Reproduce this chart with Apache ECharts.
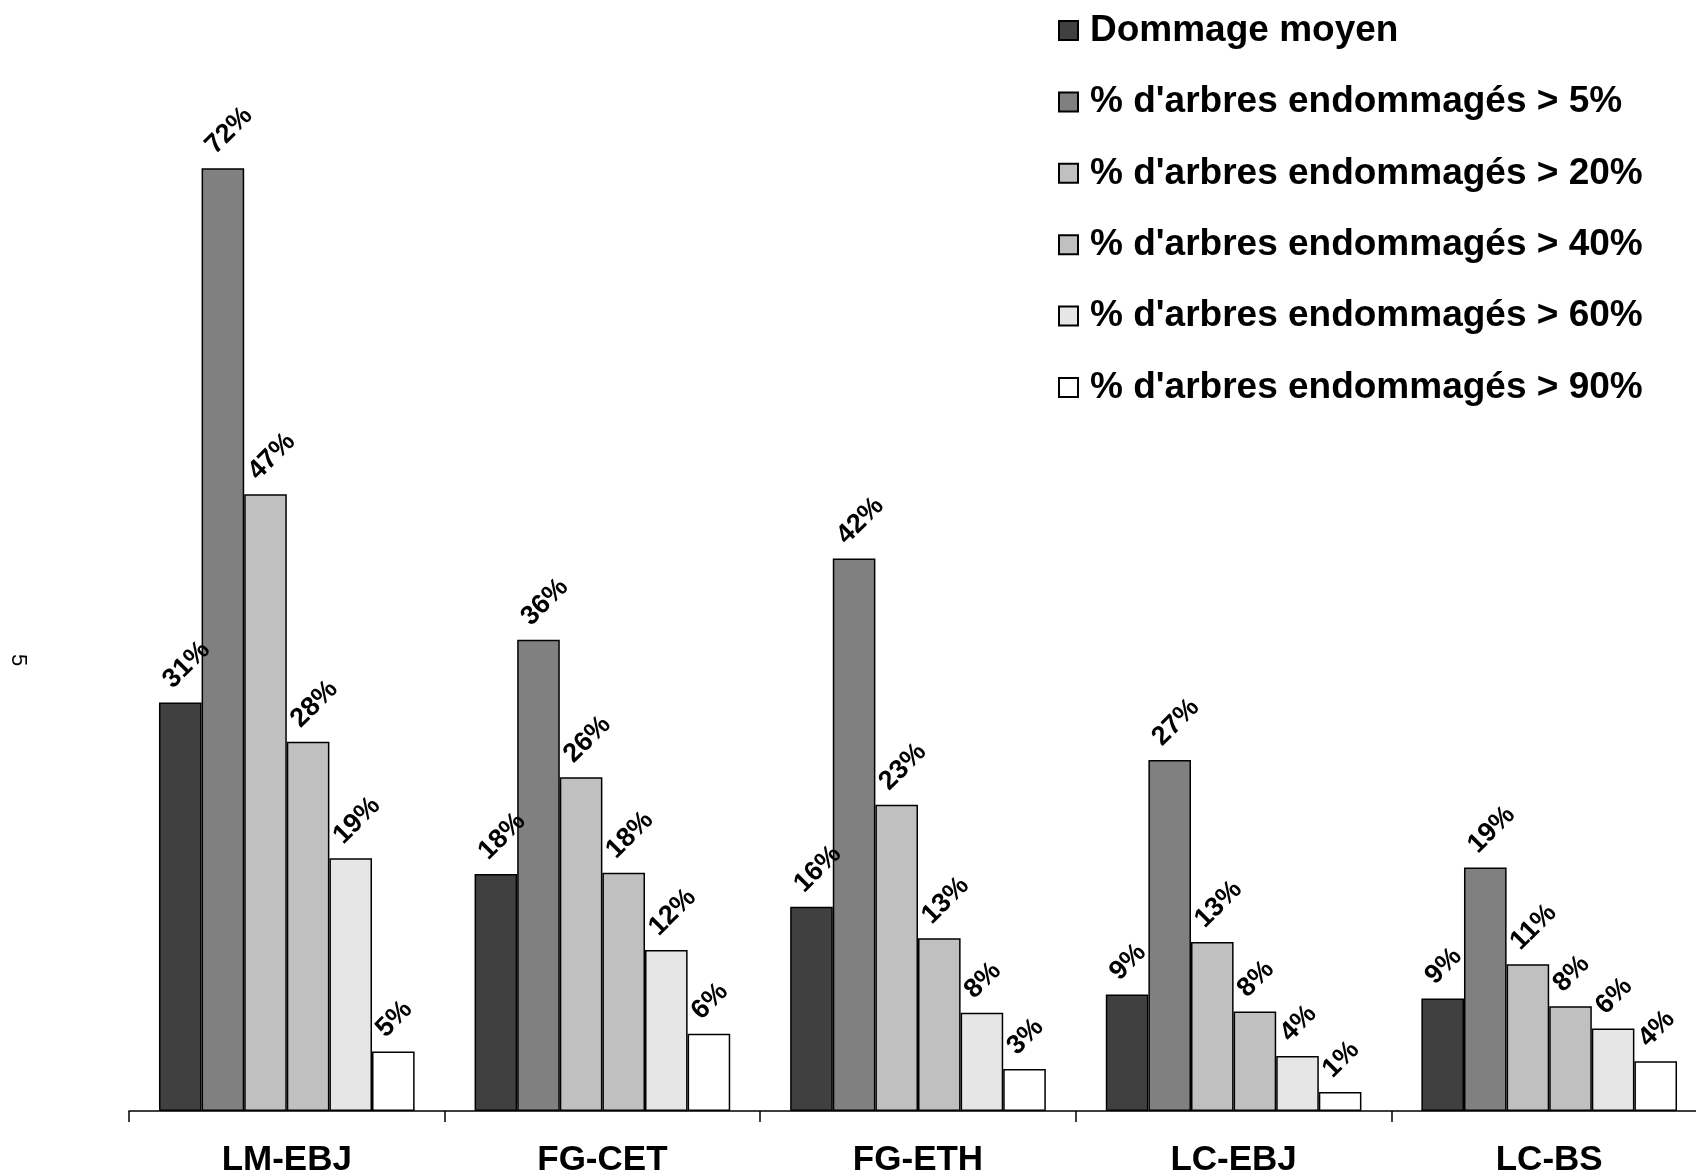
<!DOCTYPE html>
<html>
<head>
<meta charset="utf-8">
<script src="https://cdn.jsdelivr.net/npm/echarts@6/dist/echarts.min.js"></script>
<style>
html,body{margin:0;padding:0;background:#fff;}
#chart{width:1696px;height:1176px;}
</style>
</head>
<body>
<div id="chart"></div>
<script>
// ---- data ----
const categories = ['LM-EBJ', 'FG-CET', 'FG-ETH', 'LC-EBJ', 'LC-BS'];
const seriesNames = [
  'Dommage moyen',
  "% d'arbres endommagés > 5%",
  "% d'arbres endommagés > 20%",
  "% d'arbres endommagés > 40%",
  "% d'arbres endommagés > 60%",
  "% d'arbres endommagés > 90%"
];
const dommageMoyen = [31.2, 18.1, 15.6, 8.9, 8.6];
const sup5  = [72.0, 36.0, 42.2, 26.8, 18.6];
const sup20 = [47.1, 25.5, 23.4, 12.9, 11.2];
const sup40 = [28.2, 18.2, 13.2, 7.6, 8.0];
const sup60 = [19.3, 12.3, 7.5, 4.2, 6.3];
const sup90 = [4.55, 5.9, 3.2, 1.45, 3.8];
const pageNumber = '5';

const seriesData = [dommageMoyen, sup5, sup20, sup40, sup60, sup90];
const colors = ['#404040', '#808080', '#C0C0C0', '#C0C0C0', '#E6E6E6', '#FFFFFF'];

const FONT = '"Liberation Sans", Arial, sans-serif';

const chart = echarts.init(document.getElementById('chart'), null, {renderer: 'canvas'});

const series = seriesNames.map((name, i) => ({
  name: name,
  type: 'bar',
  data: seriesData[i],
  barGap: '0%',
  barCategoryGap: '19%',
  itemStyle: {color: colors[i], borderColor: '#000', borderWidth: 1.5},
  emphasis: {disabled: true},
  label: {
    show: true,
    position: [18, -9],
    rotate: 45,
    align: 'left',
    verticalAlign: 'bottom',
    fontFamily: FONT,
    fontWeight: 'bold',
    fontSize: 27,
    color: '#000',
    formatter: p => Math.round(p.value) + '%'
  }
}));

chart.setOption({
  animation: false,
  backgroundColor: '#fff',
  color: colors,
  grid: {left: 129, width: 1578, top: 63.6, bottom: 65, containLabel: false, outerBoundsMode: 'none'},
  legend: {
    orient: 'vertical',
    left: 1058,
    top: 12,
    padding: 0,
    itemWidth: 19,
    itemHeight: 19,
    itemGap: 34.4,
    icon: 'rect',
    selectedMode: false,
    textStyle: {
      fontFamily: FONT,
      fontWeight: 'bold',
      fontSize: 37,
      lineHeight: 36,
      color: '#000',
      padding: [0, 0, 0, 7]
    },
    data: seriesNames
  },
  xAxis: {
    type: 'category',
    data: categories,
    axisLine: {lineStyle: {color: '#000', width: 1.5}},
    axisTick: {show: true, length: 11, lineStyle: {color: '#000', width: 1.5}},
    axisLabel: {
      margin: 32,
      fontFamily: FONT,
      fontWeight: 'bold',
      fontSize: 35,
      color: '#000'
    }
  },
  yAxis: {
    type: 'value',
    min: 0,
    max: 80,
    show: false,
    splitLine: {show: false}
  },
  graphic: [{
    type: 'text',
    left: 7,
    top: 654,
    rotation: -Math.PI / 2,
    style: {text: pageNumber, fontFamily: FONT, fontSize: 22, fill: '#000'}
  }],
  series: series
});
</script>
</body>
</html>
